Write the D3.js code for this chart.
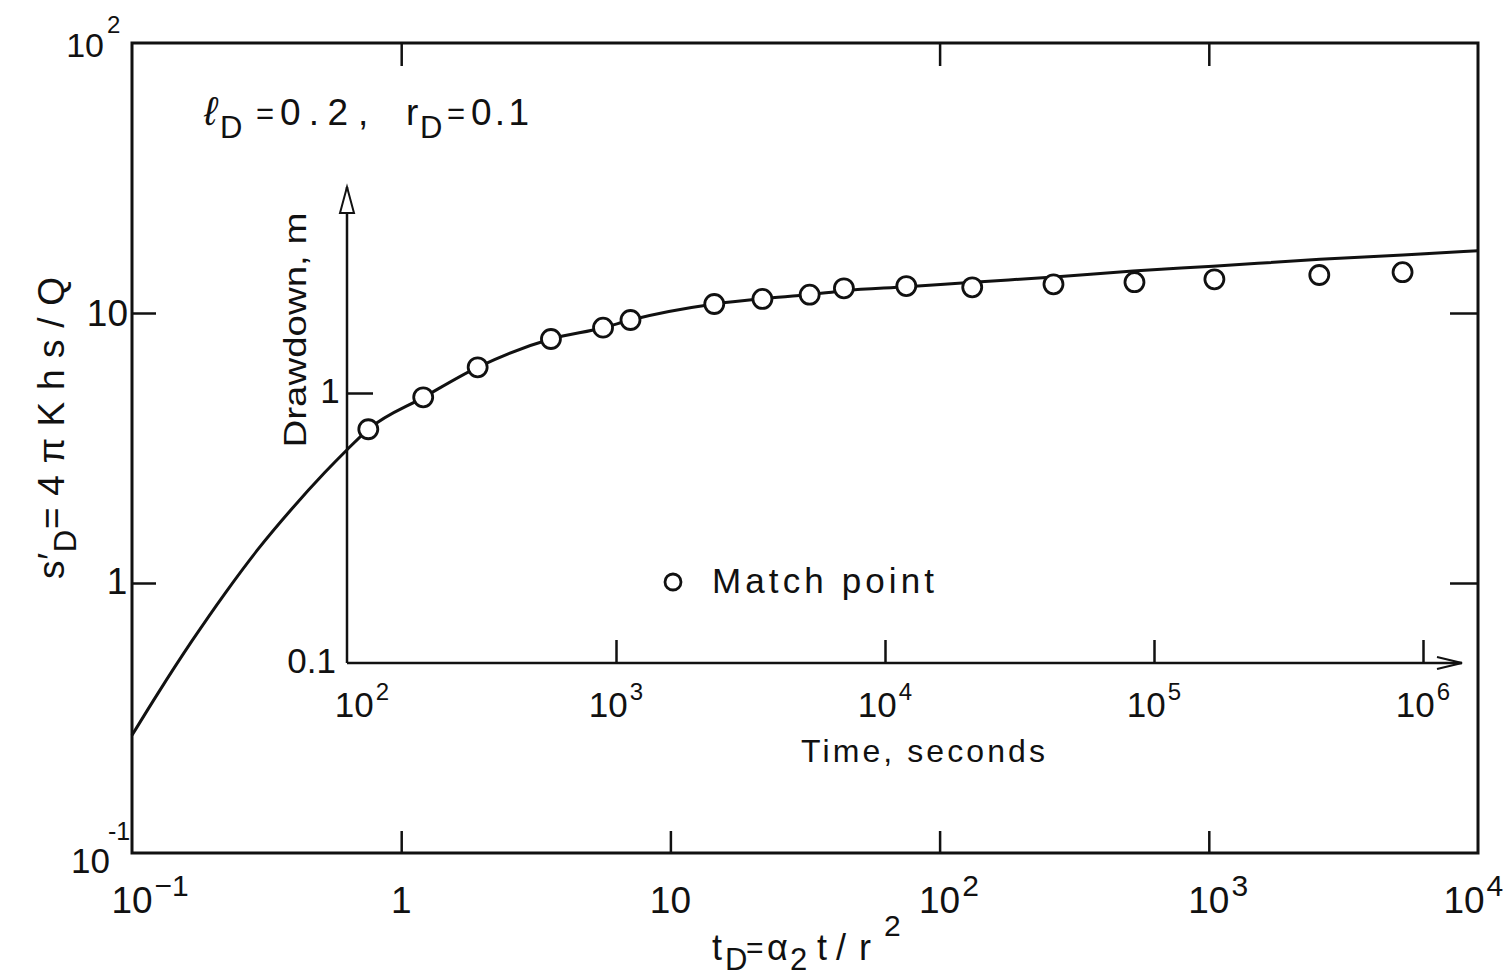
<!DOCTYPE html>
<head>
	<meta charset="utf-8" />
	<style>
		body {
			margin: 0;
			background-color: #fff;
			overflow: hidden;
		}
		svg text {
			font-family: 'Liberation Sans', 'DejaVu Sans', sans-serif;
			fill: #111;
		}
		.domain {
			display: none;
		}
		.tick line {
			stroke: #111;
			stroke-width: 2.5;
		}
	</style>
</head>

<body>
	<div id="chart-area"></div>

	<script src="https://cdnjs.cloudflare.com/ajax/libs/d3/7.8.5/d3.min.js"></script>

	<script>
		// type curve, dimensionless (t_D, s'_D)
		const curveTD = [0.1, 0.125, 0.167, 0.222, 0.295, 0.392, 0.521, 0.628, 0.755, 1.21, 1.92, 3.6, 5.63, 7.12, 14.6, 22.0, 33.0, 44.3, 75.5, 133, 266, 523, 1036, 2589, 5264, 10000];
		const curveSD = [0.273, 0.391, 0.61, 0.918, 1.34, 1.88, 2.57, 3.11, 3.71, 4.87, 6.29, 8.01, 8.82, 9.42, 10.8, 11.3, 11.7, 12.1, 12.5, 13.0, 13.6, 14.3, 14.9, 15.8, 16.4, 17.0];

		// field data (time in seconds, drawdown in m)
		const matchTime = [120, 192, 306, 573, 895, 1132, 2319, 3502, 5248, 7035, 12000, 21100, 42300, 84600, 167700, 411600, 839500];
		const matchDrawdown = [0.734, 0.964, 1.245, 1.585, 1.746, 1.864, 2.136, 2.23, 2.312, 2.442, 2.49, 2.463, 2.527, 2.573, 2.637, 2.735, 2.802];

		const outerXTicks = [0.1, 1, 10, 100, 1000, 10000];
		const outerXBase = ['10', '1', '10', '10', '10', '10'];
		const outerXExp = ['\u22121', '', '', '2', '3', '4'];
		const outerYTicks = [0.1, 1, 10, 100];
		const outerYBase = ['10', '1', '10', '10'];
		const outerYExp = ['-1', '', '', '2'];
		const innerXTicks = [1e2, 1e3, 1e4, 1e5, 1e6];
		const innerXExp = ['2', '3', '4', '5', '6'];
		const innerYTicks = [0.1, 1];
		const innerYLabels = ['0.1', '1'];

		const width = 1512,
			height = 977;

		const svg = d3
			.select('#chart-area')
			.append('svg')
			.attr('width', width)
			.attr('height', height);

		let x = d3.scaleLog().domain([0.1, 1e4]).range([132, 1478]);
		let y = d3.scaleLog().domain([0.1, 100]).range([853, 43]);
		let xi = d3.scaleLog().domain([1e2, 1e6]).range([347, 1423]);
		let yi = d3.scaleLog().domain([0.1, 1]).range([663, 393]);

		// outer frame
		svg.append('rect')
			.attr('x', x(0.1))
			.attr('y', y(100))
			.attr('width', x(1e4) - x(0.1))
			.attr('height', y(0.1) - y(100))
			.attr('fill', 'none')
			.attr('stroke', '#111')
			.attr('stroke-width', 3);

		svg.append('g')
			.attr('transform', `translate(0,${y(0.1)})`)
			.call(d3.axisBottom(x).tickValues([1, 10, 100, 1000]).tickSize(-22).tickFormat(''));
		svg.append('g')
			.attr('transform', `translate(0,${y(100)})`)
			.call(d3.axisTop(x).tickValues([1, 100, 1000]).tickSize(-23).tickFormat(''));
		svg.append('g')
			.attr('transform', `translate(${x(0.1)},0)`)
			.call(d3.axisLeft(y).tickValues([1, 10]).tickSize(-24).tickFormat(''));
		svg.append('g')
			.attr('transform', `translate(${x(1e4)},0)`)
			.call(d3.axisRight(y).tickValues([1, 10]).tickSize(-28).tickFormat(''));

		// inner axes
		svg.append('g')
			.attr('transform', `translate(0,${yi(0.1)})`)
			.call(d3.axisBottom(xi).tickValues(innerXTicks.slice(1)).tickSize(-23).tickFormat(''));
		svg.append('g')
			.attr('transform', `translate(${xi(1e2)},0)`)
			.call(d3.axisLeft(yi).tickValues([1]).tickSize(-26).tickFormat(''));

		const ox = xi(1e2),
			oy = yi(0.1);
		svg.append('path')
			.attr('d', `M${ox},${oy}V187M${ox},${oy}H1462`)
			.attr('fill', 'none')
			.attr('stroke', '#111')
			.attr('stroke-width', 2.5);
		// arrow heads
		svg.append('path')
			.attr('d', `M${ox - 7},213L${ox},187L${ox + 7},213Z`)
			.attr('fill', '#fff')
			.attr('stroke', '#111')
			.attr('stroke-width', 2);
		svg.append('path')
			.attr('d', `M1437,${oy - 6}L1462,${oy}L1437,${oy + 6}`)
			.attr('fill', 'none')
			.attr('stroke', '#111')
			.attr('stroke-width', 2);

		// curve
		const line = d3
			.line()
			.x(d => x(d[0]))
			.y(d => y(d[1]))
			.curve(d3.curveMonotoneX);
		svg.append('path')
			.datum(d3.zip(curveTD, curveSD))
			.attr('d', line)
			.attr('fill', 'none')
			.attr('stroke', '#111')
			.attr('stroke-width', 3);

		// match points
		svg.selectAll('.pt')
			.data(d3.zip(matchTime, matchDrawdown))
			.join('circle')
			.attr('class', 'pt')
			.attr('cx', d => xi(d[0]))
			.attr('cy', d => yi(d[1]))
			.attr('r', 9.5)
			.attr('fill', '#fff')
			.attr('stroke', '#111')
			.attr('stroke-width', 2.8);

		// label with superscript; mode 'base' centres the base on cx
		function supLabel(cx, by, base, exp, fs, sfs, rise, mode, anchor, gap = 2) {
			const t = svg.append('text').attr('y', by).style('font-size', fs + 'px');
			const b = t.append('tspan').text(base);
			let s;
			if (exp) {
				s = t.append('tspan')
					.attr('dy', -rise)
					.attr('dx', gap)
					.style('font-size', sfs + 'px')
					.text(exp);
			}
			const bw = b.node().getComputedTextLength();
			const sw = s ? s.node().getComputedTextLength() : 0;
			let left;
			if (anchor === 'end') left = cx - bw;
			else if (mode === 'base') left = cx - bw / 2;
			else left = cx - (bw + sw + gap) / 2;
			t.attr('x', left);
			return t;
		}

		// outer x labels
		outerXTicks.forEach((v, i) => {
			const shift = v === 1e4 ? -14 : 0;
			supLabel(x(v) + shift, 913, outerXBase[i], outerXExp[i], 37, 30, 17, 'base');
		});
		// outer y labels
		supLabel(x(0.1) - 4, y(10) + 13, outerYBase[2], '', 37, 0, 0, 'base', 'end');
		supLabel(x(0.1) - 15, y(1) + 11, outerYBase[1], '', 37, 0, 0, 'base');
		supLabel(x(0.1) - 28, y(100) + 14, outerYBase[3], outerYExp[3], 34, 24, 24, 'base', 'end', 3);
		supLabel(x(0.1) - 22, y(0.1) + 20, outerYBase[0], outerYExp[0], 35, 25, 33, 'base', 'end', -2);

		// inner x labels
		innerXTicks.forEach((v, i) => {
			const shift = i === 0 ? 15 : 0;
			supLabel(xi(v) + shift, 717, '10', innerXExp[i], 35, 24, 17, 'whole');
		});
		// inner y labels
		svg.append('text')
			.attr('x', xi(1e2) - 11)
			.attr('y', yi(0.1) + 10)
			.attr('text-anchor', 'end')
			.style('font-size', '35px')
			.text(innerYLabels[0]);
		svg.append('text')
			.attr('x', xi(1e2) - 17)
			.attr('y', yi(1) + 10)
			.attr('text-anchor', 'middle')
			.style('font-size', '35px')
			.text(innerYLabels[1]);

		// parameter text
		const par = svg.append('g').style('font-size', '37px');
		par.append('text').attr('x', 204).attr('y', 125).style('font-size', '40px').style('font-style', 'italic').text('\u2113');
		par.append('text').attr('x', 220).attr('y', 138).style('font-size', '31px').text('D');
		par.append('text').attr('x', 256).attr('y', 124).style('font-size', '31px').text('=');
		par.append('text').attr('x', 280).attr('y', 125).attr('textLength', 68).attr('lengthAdjust', 'spacing').text('0.2');
		par.append('text').attr('x', 358).attr('y', 125).text(',');
		par.append('text').attr('x', 406).attr('y', 125).text('r');
		par.append('text').attr('x', 420).attr('y', 138).style('font-size', '31px').text('D');
		par.append('text').attr('x', 447).attr('y', 124).style('font-size', '31px').text('=');
		par.append('text').attr('x', 471).attr('y', 125).attr('textLength', 58).attr('lengthAdjust', 'spacing').text('0.1');

		// inner axis titles
		svg.append('text')
			.attr('transform', 'translate(306,330) rotate(-90)')
			.attr('text-anchor', 'middle')
			.attr('textLength', 235)
			.attr('lengthAdjust', 'spacingAndGlyphs')
			.style('font-size', '31px')
			.text('Drawdown, m');
		svg.append('text')
			.attr('x', 801)
			.attr('y', 762)
			.attr('textLength', 244)
			.attr('lengthAdjust', 'spacing')
			.style('font-size', '32px')
			.text('Time, seconds');

		// legend
		svg.append('circle')
			.attr('cx', 673)
			.attr('cy', 582)
			.attr('r', 8)
			.attr('fill', '#fff')
			.attr('stroke', '#111')
			.attr('stroke-width', 2.8);
		svg.append('text')
			.attr('x', 712)
			.attr('y', 593)
			.attr('textLength', 222)
			.attr('lengthAdjust', 'spacing')
			.style('font-size', '35px')
			.text('Match point');

		// outer axis titles
		const yl = svg.append('text')
			.attr('transform', 'translate(64,428) rotate(-90)')
			.attr('text-anchor', 'middle')
			.attr('textLength', 302)
			.attr('lengthAdjust', 'spacing')
			.style('font-size', '37px');
		yl.append('tspan').text('s\u2032');
		yl.append('tspan').attr('dy', 12).style('font-size', '31px').text('D');
		yl.append('tspan').attr('dy', -12).text('= 4 \u03c0 K h s / Q');

		const xl = svg.append('g').style('font-size', '36px');
		xl.append('text').attr('x', 712).attr('y', 960).text('t');
		xl.append('text').attr('x', 725).attr('y', 970).style('font-size', '31px').text('D');
		xl.append('text').attr('x', 746).attr('y', 958).style('font-size', '30px').text('=');
		xl.append('text').attr('x', 767).attr('y', 960).text('\u03b1');
		xl.append('text').attr('x', 790).attr('y', 970).style('font-size', '31px').text('2');
		xl.append('text').attr('x', 817).attr('y', 960).text('t');
		xl.append('text').attr('x', 836).attr('y', 960).text('/');
		xl.append('text').attr('x', 859).attr('y', 960).text('r');
		xl.append('text').attr('x', 884).attr('y', 936).style('font-size', '30px').text('2');
	</script>
</body>
